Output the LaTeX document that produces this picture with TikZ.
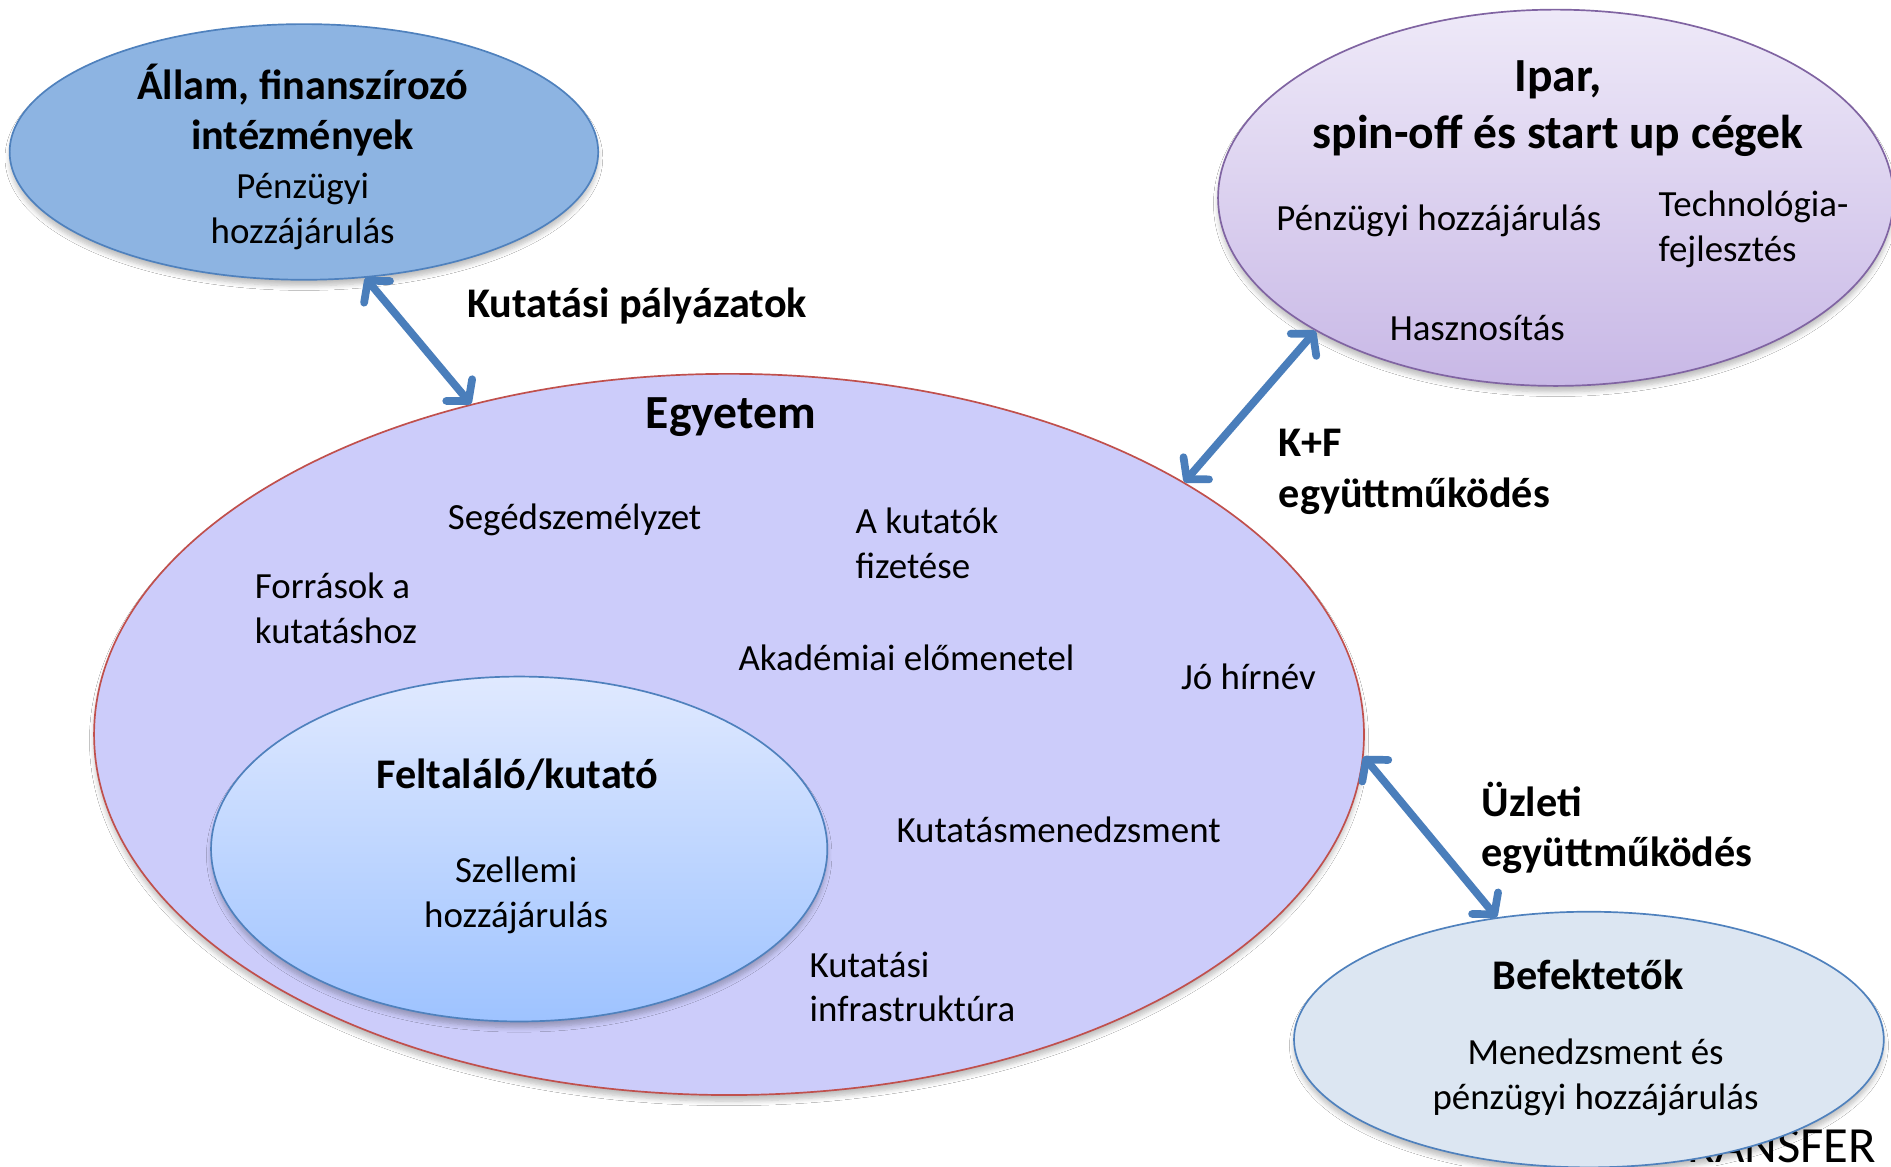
\documentclass[tikz,border=0pt]{standalone}
\usepackage{fontspec}
\setmainfont{Carlito}
\usetikzlibrary{arrows.meta,shapes.geometric,shadows.blur}

\definecolor{allamfill}{RGB}{141,180,226}
\definecolor{blueline}{RGB}{79,129,189}
\definecolor{iparline}{RGB}{128,100,162}
\definecolor{ipartop}{RGB}{238,233,248}
\definecolor{iparbot}{RGB}{200,184,230}
\definecolor{egyfill}{RGB}{204,204,250}
\definecolor{egyline}{RGB}{192,80,77}
\definecolor{invtop}{RGB}{224,233,255}
\definecolor{invbot}{RGB}{158,195,255}
\definecolor{beffill}{RGB}{220,230,242}
\definecolor{arrowblue}{RGB}{74,126,187}

\begin{document}
\begin{tikzpicture}[x=0.5pt,y=-0.5pt,
  body/.style={font=\fontsize{15.3}{18.5}\selectfont, inner sep=0pt, yshift=-1.2pt},
  ttl/.style={font=\bfseries\fontsize{17.5}{21}\selectfont, inner sep=0pt, yshift=-1.2pt},
  bigttl/.style={font=\bfseries\fontsize{19.7}{23.5}\selectfont, inner sep=0pt, yshift=-1.5pt},
  oval/.style={ellipse, inner sep=0pt, line width=0.7pt,
    blur shadow={shadow xshift=0pt, shadow yshift=-2.5pt, shadow blur steps=6, shadow opacity=25}},
  link/.style={line width=3.2pt, draw=arrowblue,
    {Straight Barb[length=6pt,width=14pt,round]}-{Straight Barb[length=6pt,width=14pt,round]}}
]
\clip (0,0) rectangle (1568,967);
\fill[white] (0,0) rectangle (1568,967);

% University with the inventor inside
\node[oval, fill=egyfill, draw=egyline, minimum width=526.5pt, minimum height=299pt] (egy) at (604.5,609) {};
\node[oval, top color=invtop, bottom color=invbot, draw=blueline, minimum width=255.5pt, minimum height=143pt] (inv) at (430.5,704) {};

% Partner bodies
\node[oval, fill=allamfill, draw=blueline, minimum width=244pt, minimum height=106pt] (allam) at (252,126) {};
\node[oval, top color=ipartop, bottom color=iparbot, draw=iparline, minimum width=280pt, minimum height=156pt] (ipar) at (1290,164) {};
\node[font=\fontsize{21}{25}\selectfont, inner sep=0pt, anchor=base east] (transfer) at (1556,964) {TRANSFER};
\node[oval, fill=beffill, draw=blueline, minimum width=244.5pt, minimum height=106pt] (bef) at (1317.5,862) {};

% Texts: state and funding bodies
\node[ttl, align=center] (allamT) at (251,89) {Állam, finanszírozó\\intézmények};
\node[body, align=center] (allamB) at (251,173) {Pénzügyi\\hozzájárulás};

% Texts: industry
\node[bigttl, align=center] (iparT) at (1292,87) {Ipar,\\spin-off és start up cégek};
\node[body, anchor=west] (iparB1) at (1058,181) {Pénzügyi hozzájárulás};
\node[body, anchor=west, align=left] (iparB2) at (1375,188) {Technológia-\\fejlesztés};
\node[body, anchor=west] (iparB3) at (1152,270) {Hasznosítás};

% Texts: university
\node[bigttl] (egyT) at (606,343) {Egyetem};
\node[body, anchor=west] (e1) at (371,429) {Segédszemélyzet};
\node[body, anchor=west, align=left] (e2) at (709,448) {A kutatók\\fizetése};
\node[body, anchor=west, align=left] (e3) at (211,502) {Források a\\kutatáshoz};
\node[body, anchor=west] (e4) at (612,543) {Akadémiai előmenetel};
\node[body, anchor=west] (e5) at (979,559) {Jó hírnév};
\node[body, anchor=west] (e6) at (743,686) {Kutatásmenedzsment};
\node[body, anchor=west, align=left] (e7) at (671,816) {Kutatási\\infrastruktúra};

% Texts: inventor
\node[ttl] (invT) at (429,640) {Feltaláló/kutató};
\node[body, align=center] (invB) at (428,740) {Szellemi\\hozzájárulás};

% Texts: investors
\node[ttl] (befT) at (1317,806) {Befektetők};
\node[body, align=center] (befB) at (1323,891) {Menedzsment és\\pénzügyi hozzájárulás};

% Link labels
\node[ttl, anchor=west] (l1) at (387,251) {Kutatási pályázatok};
\node[ttl, anchor=west, align=left] (l2) at (1060,389) {K+F\\együttműködés};
\node[ttl, anchor=west, align=left] (l3) at (1228,684) {Üzleti\\együttműködés};

% Links
\draw[link] (allam.-64) -- (egy.128);
\draw[link] (egy.29.7) -- (ipar.209.7);
\draw[link] (egy.-2.8) -- (bef.127);
\end{tikzpicture}
\end{document}
